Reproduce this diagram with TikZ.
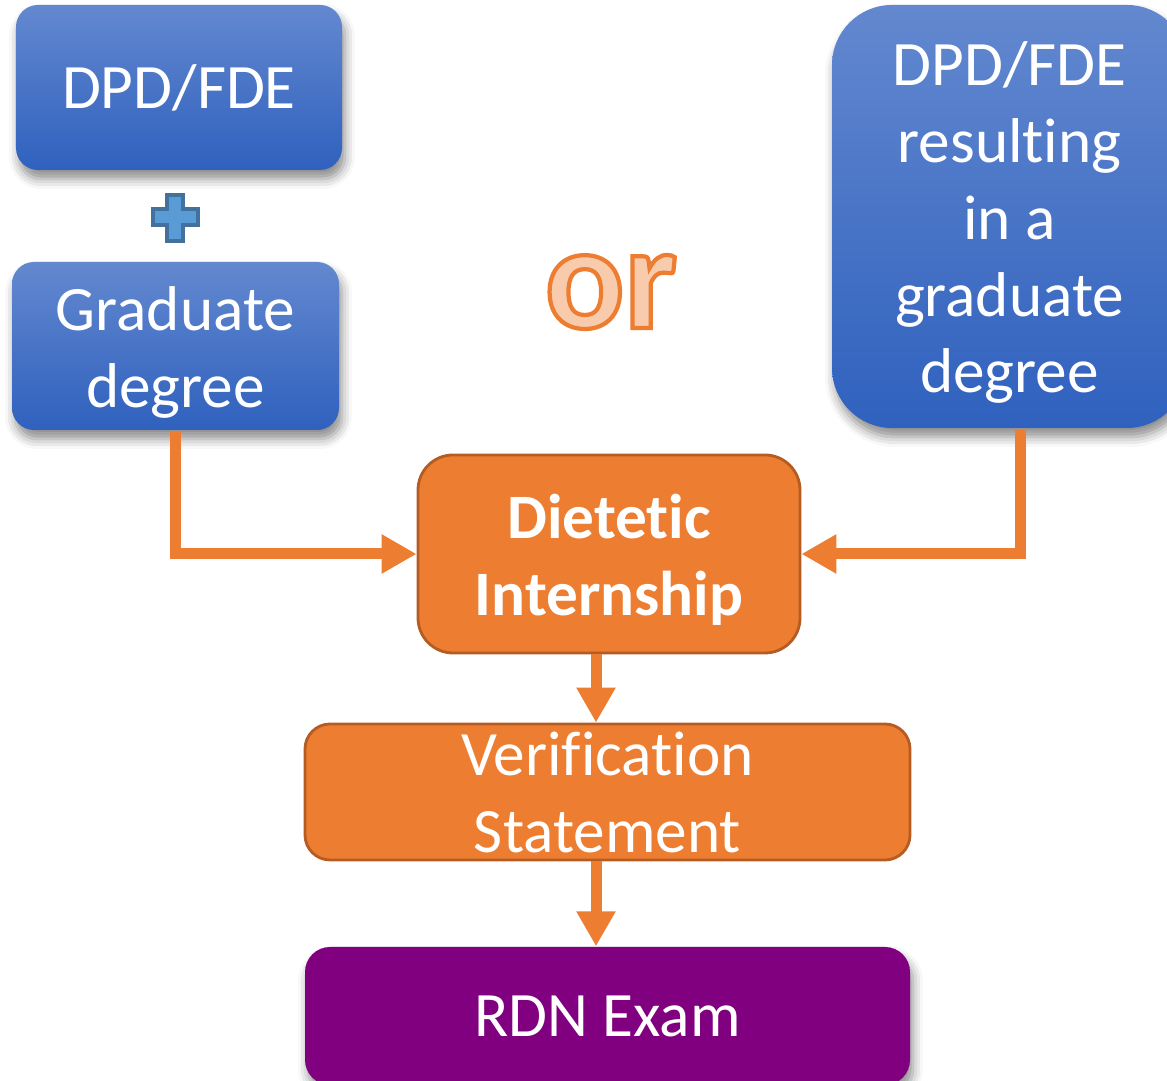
\documentclass[tikz,border=0pt]{standalone}
\usepackage{fontspec}
\setmainfont{Carlito}[Ligatures = NoCommon]
\usepackage{xcolor}
\usetikzlibrary{arrows.meta}
\usetikzlibrary{shadows.blur}

\definecolor{bluetop}{RGB}{99,136,207}
\definecolor{bluebot}{RGB}{47,97,190}
\definecolor{orfill}{RGB}{237,125,49}
\definecolor{ordraw}{RGB}{180,92,34}
\definecolor{orlight}{RGB}{248,203,173}
\definecolor{rdnpurple}{RGB}{128,0,128}
\definecolor{plusfill}{RGB}{91,155,213}
\definecolor{plusdraw}{RGB}{65,113,156}

\newcommand{\outlined}[1]{\special{pdf:literal direct 2 Tr 1.2 w 0.929 0.490 0.192 RG}#1\special{pdf:literal direct 0 Tr}}

\tikzset{
    boxfont/.style = {font = \fontsize{18}{21.9}\selectfont},
    boxbold/.style = {font = \fontsize{18}{21.9}\selectfont\bfseries},
    boxshadow/.style = {blur shadow = {shadow xshift = 0.3mm, shadow yshift = -0.9mm,
        shadow blur radius = 1mm, shadow opacity = 45}},
    bluebox/.style = {rounded corners = 0.22cm, top color = bluetop, bottom color = bluebot,
        text = white, align = center, inner sep = 0pt, boxshadow},
    orbox/.style = {rounded corners = 0.25cm, fill = orfill, draw = ordraw, line width = 0.8pt,
        text = white, align = center, inner sep = 0pt},
    conn/.style = {draw = orfill, line width = 0.11cm},
    connarr/.style = {conn, -{Triangle[length = 0.35cm, width = 0.37cm]}},
    plus/.style = {fill = plusfill, draw = plusdraw, line width = 0.9pt}
}

\begin{document}
\begin{tikzpicture}
        \path[use as bounding box] (0, 0) rectangle (11.67, 10.81);
        \clip (0, 0) rectangle (11.67, 10.81);

        \node[bluebox, boxfont, minimum width = 3.26cm, minimum height = 1.65cm]
            (dpd) at (1.79, 9.935) {DPD/FDE};
        \node[bluebox, boxfont, minimum width = 3.27cm, minimum height = 1.68cm]
            (grad) at (1.755, 7.35) {\rule{0pt}{0.56cm}Graduate\\degree};
        \node[bluebox, boxfont, rounded corners = 0.6cm, minimum width = 3.55cm, minimum height = 4.23cm]
            (dpdgrad) at (10.095, 8.645) {\rule{0pt}{0.56cm}DPD/FDE\\resulting\\in a\\graduate\\degree};

        \filldraw[plus] (1.67, 8.86) -- (1.83, 8.86) -- (1.83, 8.72) -- (1.98, 8.72)
            -- (1.98, 8.56) -- (1.83, 8.56) -- (1.83, 8.40) -- (1.67, 8.40)
            -- (1.67, 8.56) -- (1.53, 8.56) -- (1.53, 8.72) -- (1.67, 8.72) -- cycle;

        \node[text = orlight, font = \fontsize{42}{42}\selectfont\bfseries]
            (or) at (6.11, 7.89) {\outlined{or}};

        \node[orbox, boxbold, rounded corners = 0.35cm, minimum width = 3.82cm, minimum height = 1.98cm]
            (intern) at (6.09, 5.27) {\rule{0pt}{0.56cm}Dietetic\\Internship};
        \node[orbox, boxfont, minimum width = 6.05cm, minimum height = 1.36cm]
            (verif) at (6.075, 2.89) {Verification\\Statement};
        \node[rounded corners = 0.25cm, fill = rdnpurple, text = white, boxfont, boxshadow,
            minimum width = 6.05cm, minimum height = 1.38cm]
            (rdn) at (6.075, 0.65) {RDN Exam};

        \coordinate (rdrop) at (10.2, 0);
        \coordinate (cdrop) at (5.96, 0);

        \draw[connarr] (grad.south) |- (intern.west);
        \draw[connarr] (dpdgrad.south -| rdrop) |- (intern.east);
        \draw[connarr] (intern.south -| cdrop) -- (verif.north -| cdrop);
        \draw[connarr] (verif.south -| cdrop) -- (rdn.north -| cdrop);
\end{tikzpicture}
\end{document}
